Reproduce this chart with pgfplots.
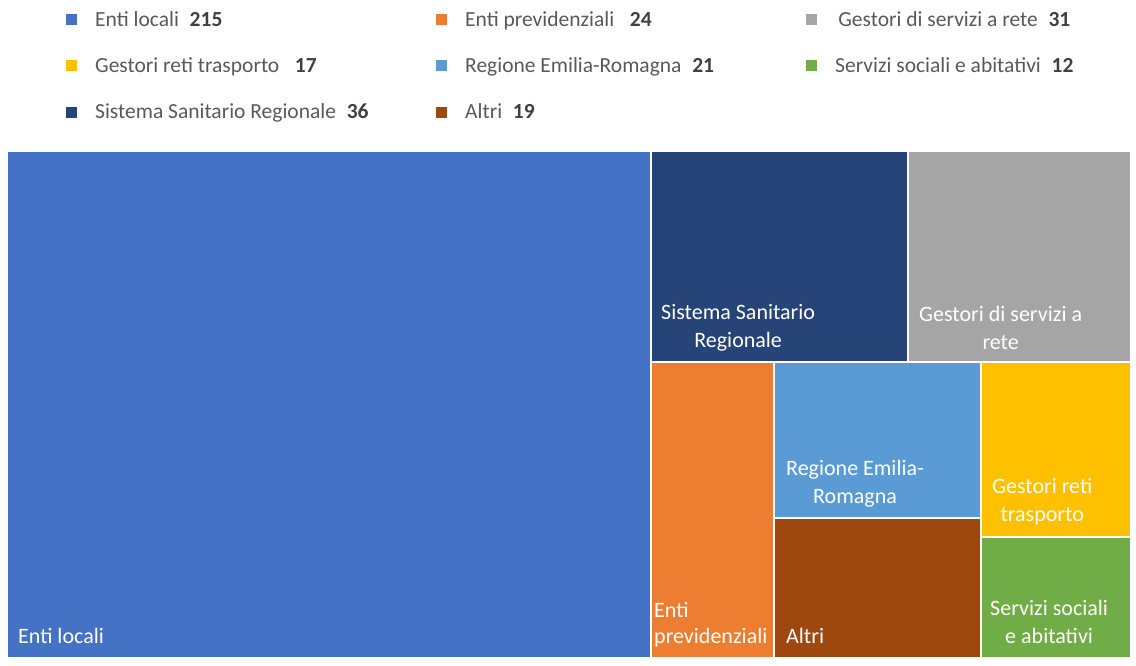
\documentclass[border=0pt]{standalone}
\usepackage{pgfplots}
\pgfplotsset{compat=1.18}
\usepackage{fontspec}
\setmainfont{Carlito}
\definecolor{cBlue}{HTML}{4472C4}
\definecolor{cOrange}{HTML}{ED7D31}
\definecolor{cGray}{HTML}{A5A5A5}
\definecolor{cYellow}{HTML}{FFC000}
\definecolor{cLBlue}{HTML}{5B9BD5}
\definecolor{cGreen}{HTML}{70AD47}
\definecolor{cDBlue}{HTML}{264478}
\definecolor{cBrown}{HTML}{9E480E}
\definecolor{legtext}{HTML}{595959}
\definecolor{legnum}{HTML}{404040}
\newcommand{\lab}[2]{\makebox[339pt][l]{#1\enspace\textcolor{legnum}{\textbf{#2}}}}
\newcommand{\labC}[2]{#1\enspace\textcolor{legnum}{\textbf{#2}}}
\begin{document}
\begin{tikzpicture}
\begin{axis}[
  scale only axis, width=1136pt, height=666pt,
  xmin=0, xmax=1136, ymin=0, ymax=666, y dir=reverse,
  hide axis, clip=false,
  legend columns=3,
  legend image code/.code={\fill[#1,draw=none] (0pt,-5.5pt) rectangle (11pt,5.5pt);},
  legend style={at={(axis cs:66,9)}, anchor=north west, draw=none, fill=none,
    font=\fontsize{21.5}{25}\selectfont, text=legtext,
    row sep=26pt, inner sep=0pt,
    /tikz/every odd column/.append style={column sep=16pt},
    /tikz/every even column/.append style={column sep=0pt}},
  every node/.append style={text=white},
]
\addplot[fill=cBlue, draw=none] coordinates {(8,152) (650,152) (650,657) (8,657)} --cycle;
\addlegendentry{\lab{Enti locali}{215}}
\addplot[fill=cOrange, draw=none] coordinates {(652,363) (773,363) (773,657) (652,657)} --cycle;
\addlegendentry{\lab{Enti previdenziali\ }{24}}
\addplot[fill=cGray, draw=none] coordinates {(909,152) (1130,152) (1130,361) (909,361)} --cycle;
\addlegendentry{\labC{Gestori di servizi a rete}{31}}
\addplot[fill=cYellow, draw=none] coordinates {(982,363) (1130,363) (1130,536) (982,536)} --cycle;
\addlegendentry{\lab{Gestori reti trasporto\ }{17}}
\addplot[fill=cLBlue, draw=none] coordinates {(775,363) (980,363) (980,517) (775,517)} --cycle;
\addlegendentry{\lab{Regione Emilia-Romagna}{21}}
\addplot[fill=cGreen, draw=none] coordinates {(982,538) (1130,538) (1130,657) (982,657)} --cycle;
\addlegendentry{\labC{Servizi sociali e abitativi}{12}}
\addplot[fill=cDBlue, draw=none] coordinates {(652,152) (907,152) (907,361) (652,361)} --cycle;
\addlegendentry{\lab{Sistema Sanitario Regionale}{36}}
\addplot[fill=cBrown, draw=none] coordinates {(775,519) (980,519) (980,657) (775,657)} --cycle;
\addlegendentry{\lab{Altri}{19}}

\begin{scope}[every node/.style={text=white, font=\fontsize{22}{28}\selectfont, inner sep=0pt, anchor=west}]
\node at (axis cs:18,636) {Enti locali};
\node[align=center] at (axis cs:661,328) {Sistema Sanitario\\Regionale};
\node[align=center] at (axis cs:919,328) {Gestori di servizi a\\rete};
\node[align=left, font=\fontsize{22}{26}\selectfont] at (axis cs:654,625) {Enti\\previdenziali};
\node[align=center] at (axis cs:786,484) {Regione Emilia-\\Romagna};
\node at (axis cs:786,636) {Altri};
\node[align=center] at (axis cs:992,502) {Gestori reti\\trasporto};
\node[align=center] at (axis cs:990,622) {Servizi sociali\\e abitativi};
\end{scope}
\path (axis cs:0,0) rectangle (axis cs:1136,666);
\end{axis}
\end{tikzpicture}
\end{document}
